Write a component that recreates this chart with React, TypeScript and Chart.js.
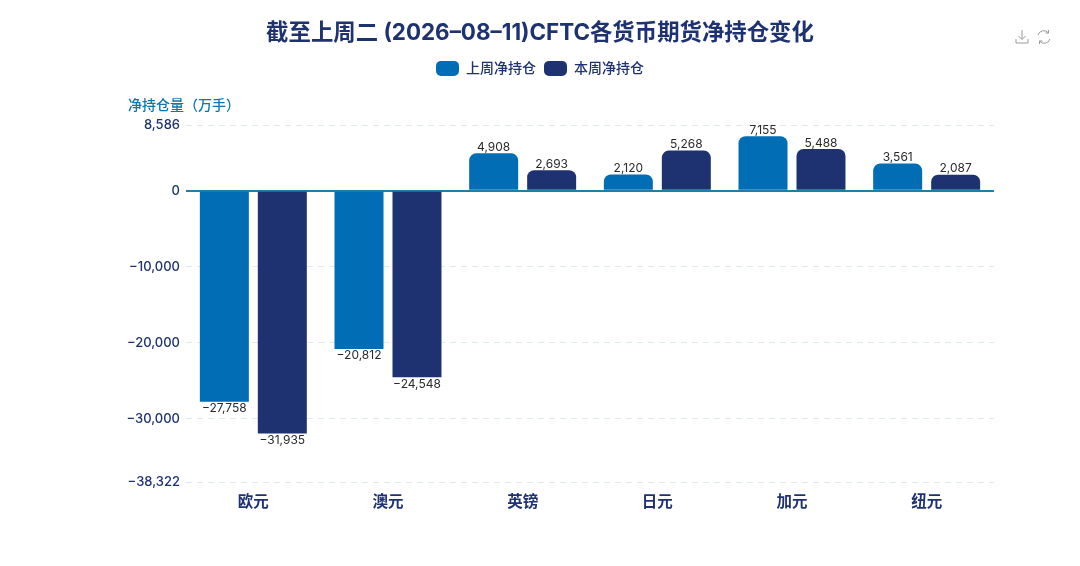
import React, { useEffect, useRef } from 'react';
import Chart from 'chart.js/auto';

const currencies = ['欧元', '澳元', '英镑', '日元', '加元', '纽元'];
const lastWeek = [-27758, -20812, 4908, 2120, 7155, 3561];
const thisWeek = [-31935, -24548, 2693, 5268, 5488, 2087];
const yTicks = [8586, 0, -10000, -20000, -30000, -38322];

const FONT = 'Inter, "Noto Sans CJK SC", sans-serif';
const NAVY = '#1e3272';
const BLUE = '#016db5';

const fmt = (v: number) => (v < 0 ? '−' : '') + Math.abs(v).toLocaleString('en-US');

const extras = {
  id: 'extras',
  beforeInit(chart: any) {
    // room between the legend and the plot
    const fit = chart.legend.fit;
    chart.legend.fit = function () {
      fit.call(this);
      this.height += 39.5;
    };
  },
  afterDatasetsDraw(chart: any) {
    const ctx = chart.ctx;
    ctx.save();
    ctx.textAlign = 'center';
    ctx.font = `12px ${FONT}`;
    ctx.fillStyle = '#2a2a2a';
    chart.data.datasets.forEach((ds: any, i: number) => {
      chart.getDatasetMeta(i).data.forEach((bar: any, j: number) => {
        const v = ds.data[j];
        ctx.textBaseline = v < 0 ? 'top' : 'bottom';
        ctx.fillText(fmt(v), bar.x, v < 0 ? bar.y + 1 : bar.y);
      });
    });
    // axis name
    ctx.textAlign = 'left';
    ctx.textBaseline = 'middle';
    ctx.font = `500 14px ${FONT}`;
    ctx.fillStyle = '#0d76ae';
    ctx.fillText('净持仓量（万手）', 128, 106);
    ctx.restore();
  },
};

export default function App() {
  const canvasRef = useRef<HTMLCanvasElement>(null);

  useEffect(() => {
    if (!canvasRef.current) return;
    const chart = new Chart(canvasRef.current, {
      type: 'bar',
      data: {
        labels: currencies,
        datasets: [
          { label: '上周净持仓', data: lastWeek, backgroundColor: BLUE },
          { label: '本周净持仓', data: thisWeek, backgroundColor: NAVY },
        ],
      },
      options: {
        responsive: false,
        animation: false,
        layout: { padding: { left: 86, right: 86, top: 20, bottom: 0 } },
        datasets: {
          bar: {
            categoryPercentage: 0.861,
            barPercentage: 0.845,
            borderWidth: 0,
            borderRadius: { topLeft: 7, topRight: 7, bottomLeft: 0, bottomRight: 0 },
          },
        },
        plugins: {
          title: {
            display: true,
            text: '截至上周二 (2026–08–11)CFTC各货币期货净持仓变化',
            color: NAVY,
            font: { family: FONT, size: 22.4, weight: 'bold' },
            padding: { top: 0, bottom: 6 },
          },
          legend: {
            position: 'top',
            labels: {
              boxWidth: 23,
              boxHeight: 15,
              useBorderRadius: true,
              borderRadius: 5,
              color: NAVY,
              padding: 8,
              font: { family: FONT, size: 14, weight: '500' },
            },
          },
          tooltip: { enabled: false },
        },
        scales: {
          x: {
            grid: { display: false },
            border: { display: false },
            ticks: {
              color: NAVY,
              padding: 3,
              font: { family: FONT, size: 15.5, weight: 'bold' },
            },
            afterFit: (s: any) => {
              s.height = 84;
            },
          },
          y: {
            min: -38322,
            max: 8586,
            afterBuildTicks: (s: any) => {
              s.ticks = yTicks.map((value) => ({ value }));
            },
            grid: {
              drawTicks: false,
              color: (c: any) => (c.tick?.value === 0 ? '#1f7fa8' : '#dfeaee'),
              lineWidth: (c: any) => (c.tick?.value === 0 ? 2 : 1),
            },
            border: {
              display: false,
              dash: (c: any) => (c.tick?.value === 0 ? [] : [6, 5]),
            },
            ticks: {
              color: NAVY,
              padding: 6,
              font: { family: FONT, size: 13, weight: '500' },
              callback: (v: any) => fmt(Number(v)),
            },
            afterFit: (s: any) => {
              s.width = 100;
            },
          },
        },
      } as any,
      plugins: [extras],
    });
    return () => chart.destroy();
  }, []);

  return (
    <div style={{ position: 'absolute', left: 0, top: 0, width: 1080, height: 566, background: '#fff' }}>
      <canvas ref={canvasRef} width={1080} height={566} style={{ display: 'block' }} />
      <svg
        width={40}
        height={16}
        viewBox="0 0 40 16"
        style={{ position: 'absolute', left: 1015, top: 29 }}
        fill="none"
        stroke="#9a9a9a"
        strokeWidth={1}
      >
        <path d="M7 1v9M3.5 7 7 10.5 10.5 7M1 10v4h12v-4" />
        <path d="M23 6a6 6 0 0 1 10.5-2M35 10a6 6 0 0 1-10.5 2M33.5 1v3h-3M24.5 15v-3h3" />
      </svg>
    </div>
  );
}
